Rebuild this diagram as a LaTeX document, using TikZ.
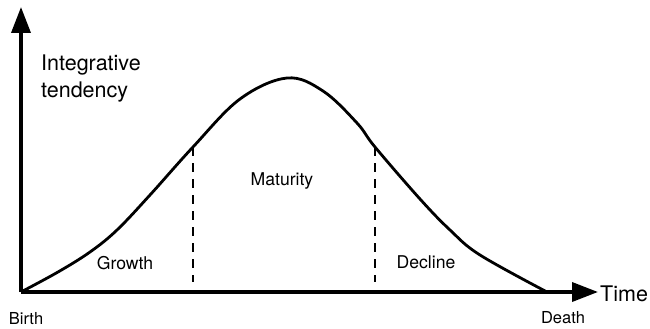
\documentclass[tikz,border=0pt]{standalone}
\usepackage{fontspec}
\setmainfont{TeX Gyre Heros}
\usetikzlibrary{arrows.meta}
\begin{document}
\begin{tikzpicture}[x=1pt,y=-1pt,
  axis/.style={line width=3.6pt,-{Triangle[length=26pt,width=19pt]}},
  curve/.style={line width=2.8pt},
  divider/.style={line width=1.8pt,dash pattern=on 9pt off 7pt},
  big/.style={font=\fontsize{21.5}{27}\selectfont,inner sep=0pt},
  phase/.style={font=\fontsize{17.6}{21}\selectfont,inner sep=0pt,anchor=base},
  endlab/.style={font=\fontsize{16.5}{20}\selectfont,inner sep=0pt,anchor=base}]
\useasboundingbox (0,0) rectangle (650,329);
\coordinate (O) at (21,292);
\coordinate (ytip) at (21,7);
\coordinate (xtip) at (598,292);
\coordinate (d1) at (193,147);
\coordinate (d1b) at (193,282);
\coordinate (d2) at (375,147);
\coordinate (d2b) at (375,282);
\draw[curve] plot[smooth,tension=0.6] coordinates {(21,292) (58,272) (90,252) (117,230) (150,195) (193,147) (240,99) (287,78) (323,91) (357,123) (375,147) (420,199) (450,230) (480,255) (547,292)};
\draw[divider] (d1) -- (d1b);
\draw[divider] (d2) -- (d2b);
\draw[axis] (O) -- (xtip);
\draw[axis] (O) -- (ytip);
\node[big,anchor=base west,align=left] (ylab) at (41,97) {Integrative\\tendency};
\node[big,anchor=base west] (xlab) at (600,301) {Time};
\node[endlab] (birth) at (26,324) {Birth};
\node[endlab] (death) at (563,323) {Death};
\node[phase] (growth) at (125,269) {Growth};
\node[phase] (maturity) at (282,185) {Maturity};
\node[phase] (decline) at (426,268) {Decline};
\end{tikzpicture}
\end{document}
